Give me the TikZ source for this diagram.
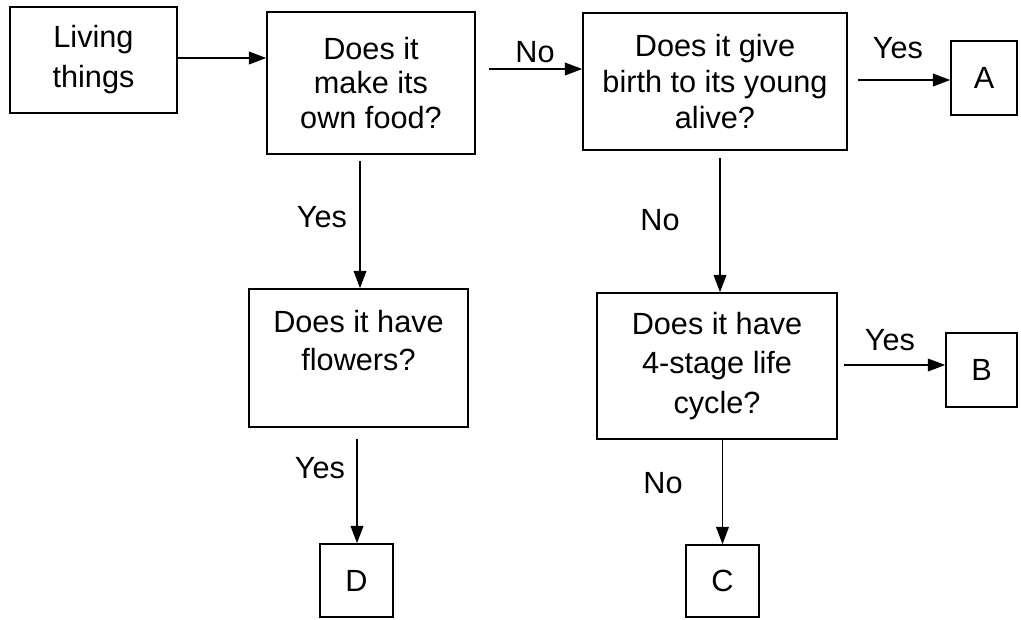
\documentclass[tikz,border=0pt]{standalone}
\usepackage{fontspec}
\setmainfont{Liberation Sans}
\usetikzlibrary{arrows.meta}
\begin{document}
\begin{tikzpicture}[x=0.75pt,y=-0.75pt,
  box/.style={draw, line width=1.2pt, inner sep=0pt, align=center},
  txt/.style={inner sep=0pt, align=center, font=\fontsize{23}{27}\selectfont},
  lbl/.style={inner sep=0pt, font=\fontsize{23}{27}\selectfont},
  arr/.style={line width=1.2pt, -{Triangle[length=13pt,width=9.5pt]}}]
\useasboundingbox (0,0) rectangle (1021,619);
\fill[white] (0,0) rectangle (1021,619);

% boxes
\node[box, minimum width=125.25pt, minimum height=79.5pt, font=\fontsize{23}{30}\selectfont] (living) at (93.5,60) {Living\\things};
\node[box, minimum width=156pt, minimum height=106.5pt, font=\fontsize{23}{26}\selectfont] (food) at (371,83) {Does it\\make its\\own food?};
\node[box, minimum width=198pt, minimum height=102.75pt, font=\fontsize{23}{27}\selectfont] (birth) at (715,81.5) {Does it give\\birth to its young\\alive?};
\node[box, minimum width=49.5pt, minimum height=55.5pt, font=\fontsize{23}{27}\selectfont] (A) at (984,78) {A};
\node[box, minimum width=164.25pt, minimum height=103.5pt] (flowers) at (358.5,358) {};
\node[txt, font=\fontsize{23}{28}\selectfont] (flowerstxt) at (358.5,340.5) {Does it have\\flowers?};
\node[box, minimum width=180pt, minimum height=109.5pt, font=\fontsize{23}{29.6}\selectfont] (stage) at (717,366) {Does it have\\4-stage life\\cycle?};
\node[box, minimum width=53.25pt, minimum height=55.5pt, font=\fontsize{23}{27}\selectfont] (B) at (981.5,370) {B};
\node[box, minimum width=54.75pt, minimum height=54.75pt, font=\fontsize{23}{27}\selectfont] (D) at (356.5,580.5) {D};
\node[box, minimum width=54.75pt, minimum height=54pt, font=\fontsize{23}{27}\selectfont] (C) at (722.5,581) {C};

% connectors
\coordinate (s1) at ([shift={(0,-2)}]living.east);
\draw[arr] (s1) -- (s1 -| food.west);

\coordinate (s2) at ([shift={(13,-14)}]food.east);
\draw[arr] (s2) -- (s2 -| birth.west);
\node[lbl] (no1) at (535,52) {No};

\coordinate (s3) at ([shift={(10,-1.5)}]birth.east);
\draw[arr] (s3) -- (s3 -| A.west);
\node[lbl] (yes1) at (898,48) {Yes};

\coordinate (s4) at ([shift={(-11,6)}]food.south);
\draw[arr] (s4) -- (s4 |- flowers.north);
\node[lbl] (yes2) at (322,217) {Yes};

\coordinate (s5) at ([shift={(5,7)}]birth.south);
\draw[arr] (s5) -- (s5 |- stage.north);
\node[lbl] (no2) at (660,220) {No};

\coordinate (s6) at ([shift={(6,-1)}]stage.east);
\draw[arr] (s6) -- (s6 -| B.west);
\node[lbl] (yes3) at (890,340) {Yes};

\coordinate (s7) at ([shift={(-1.5,11)}]flowers.south);
\draw[arr] (s7) -- (s7 |- D.north);
\node[lbl] (yes4) at (320,468) {Yes};

\coordinate (s8) at (C.north |- stage.south);
\draw[arr] (s8) -- (C.north);
\node[lbl] (no3) at (663,483) {No};
\end{tikzpicture}
\end{document}
